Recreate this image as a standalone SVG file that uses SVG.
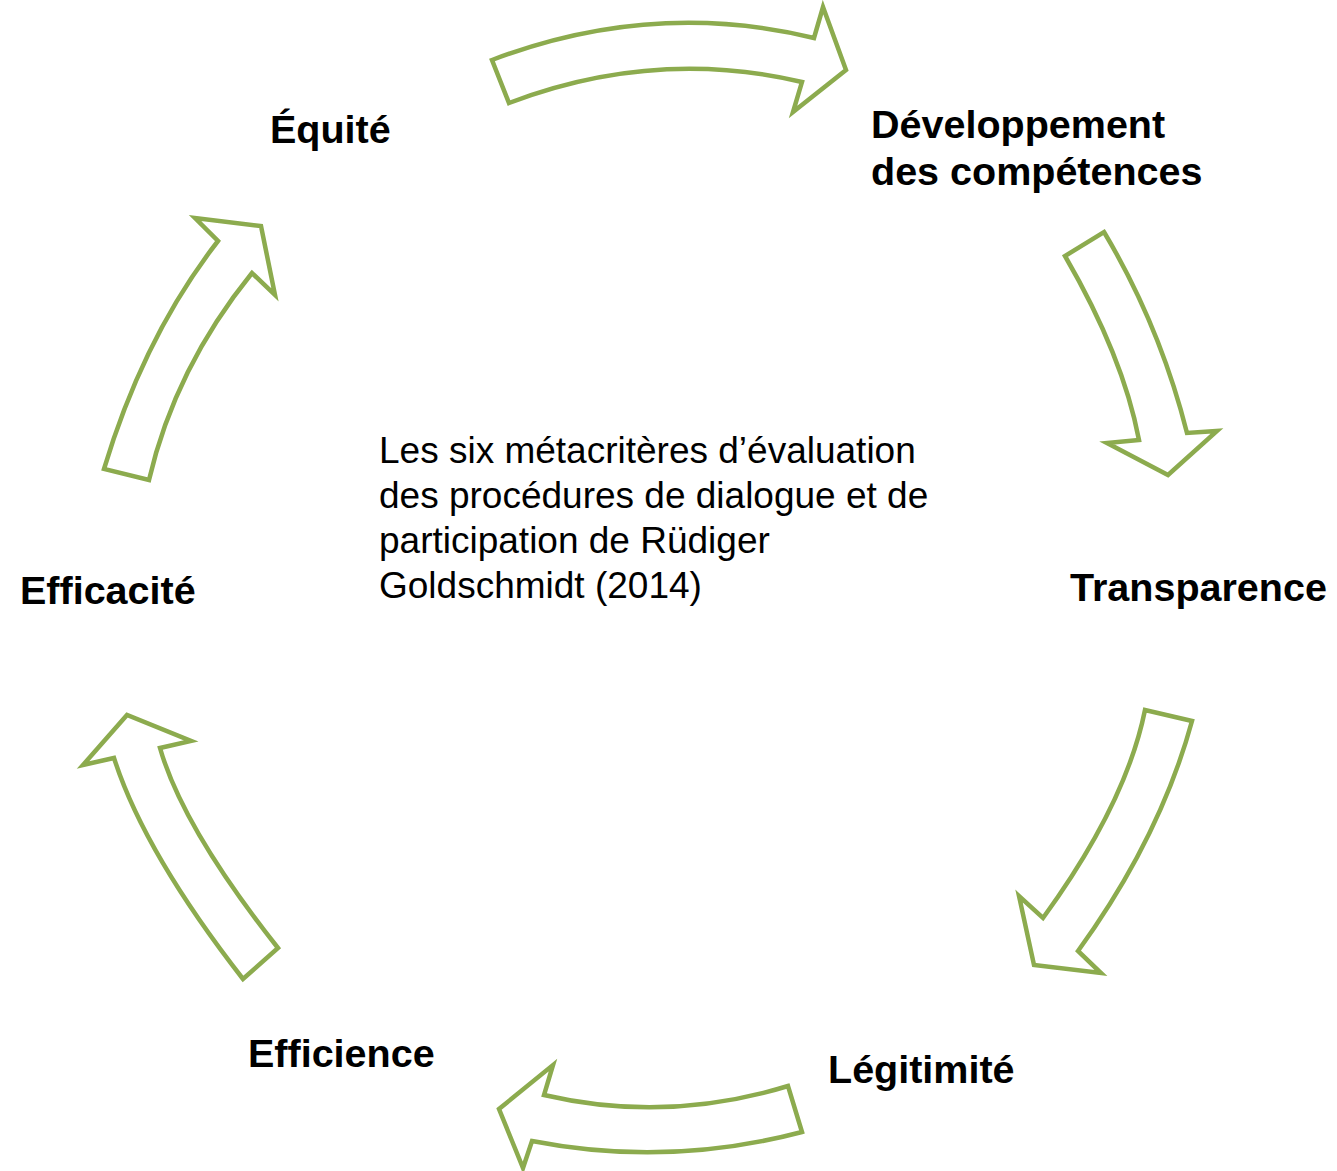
<svg xmlns="http://www.w3.org/2000/svg" width="1337" height="1171" viewBox="0 0 1337 1171">
<style>
.arrow{fill:#ffffff;stroke:#8cab4e;stroke-width:4.5;stroke-linejoin:miter}
.lbl{font-family:"Liberation Sans",Arial,sans-serif;font-weight:bold;font-size:39.5px;fill:#000}
.ctr{font-family:"Liberation Sans",Arial,sans-serif;font-size:37px;fill:#000}
</style>
<rect width="1337" height="1171" fill="#ffffff"/>
<g id="connectors">
<path class="arrow" d="M492,60 Q653,-1 814,38 L823,7 L846,70 L793,112 L802,82 Q655,47.5 509,103 Z"/>
<path class="arrow" d="M1104,232 Q1160,326 1187,433 L1217,431 L1168,475 L1107,443 L1139,440 Q1123,356 1065,256 Z"/>
<path class="arrow" d="M1192,721 Q1160,838 1078,951 L1101,973 L1034,965 L1019,896 L1043,918 Q1126,804 1145,710 Z"/>
<path class="arrow" d="M802,1132 Q667,1167.5 532,1141 L523,1168 L499,1109 L553,1065 L544,1095 Q666,1123.5 788,1086 Z"/>
<path class="arrow" d="M278,948 Q183,828 160,748 L191,741 L127,715 L83,765 L114,758 Q144,852 243,979 Z"/>
<path class="arrow" d="M149,480 Q175,368 252,273 L275,295 L261,226 L195,218 L218,241 Q144,336 104,469 Z"/>
</g>
<g id="node-equite"><text class="lbl" x="270" y="143">Équité</text></g>
<g id="node-developpement"><text class="lbl" x="871" y="138">Développement</text><text class="lbl" x="871" y="185">des compétences</text></g>
<g id="node-transparence"><text class="lbl" x="1070" y="601">Transparence</text></g>
<g id="node-legitimite"><text class="lbl" x="828" y="1083">Légitimité</text></g>
<g id="node-efficience"><text class="lbl" x="248" y="1067">Efficience</text></g>
<g id="node-efficacite"><text class="lbl" x="20" y="604">Efficacité</text></g>
<g id="center">
<text class="ctr" x="379" y="463">Les six métacritères d’évaluation</text>
<text class="ctr" x="379" y="508">des procédures de dialogue et de</text>
<text class="ctr" x="379" y="553">participation de Rüdiger</text>
<text class="ctr" x="379" y="598">Goldschmidt (2014)</text>
</g>
</svg>
